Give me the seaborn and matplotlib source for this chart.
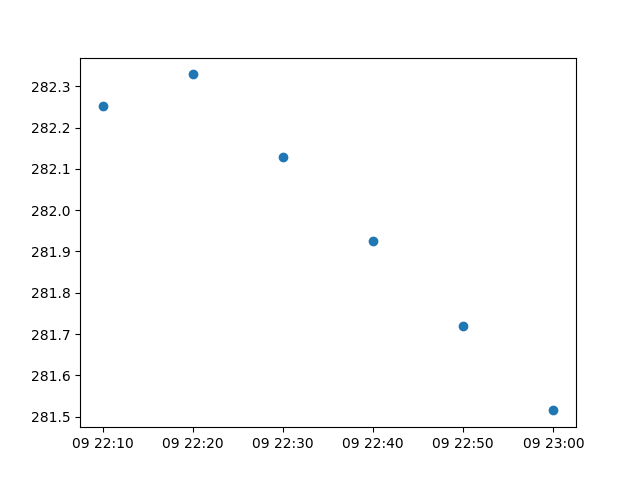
import pandas as pd
import seaborn as sns
import matplotlib
matplotlib.use('Agg')
import matplotlib.pyplot as plt
import matplotlib.dates as mdates

# Readings every 10 minutes
times = ['2021-03-09 22:10', '2021-03-09 22:20', '2021-03-09 22:30',
         '2021-03-09 22:40', '2021-03-09 22:50', '2021-03-09 23:00']
values = [282.253, 282.329, 282.129, 281.925, 281.720, 281.515]

df = pd.DataFrame({'time': pd.to_datetime(times), 'value': values})

fig, ax = plt.subplots(figsize=(6.4, 4.8), dpi=100)
sns.scatterplot(data=df, x='time', y='value', ax=ax, s=36, linewidth=1,
                color='#1f77b4', edgecolor='#1f77b4')
ax.set_xlabel('')
ax.set_ylabel('')
ax.xaxis.set_major_locator(mdates.MinuteLocator(byminute=range(0, 60, 10)))
ax.xaxis.set_major_formatter(mdates.DateFormatter('%d %H:%M'))

plt.savefig('out.png')
